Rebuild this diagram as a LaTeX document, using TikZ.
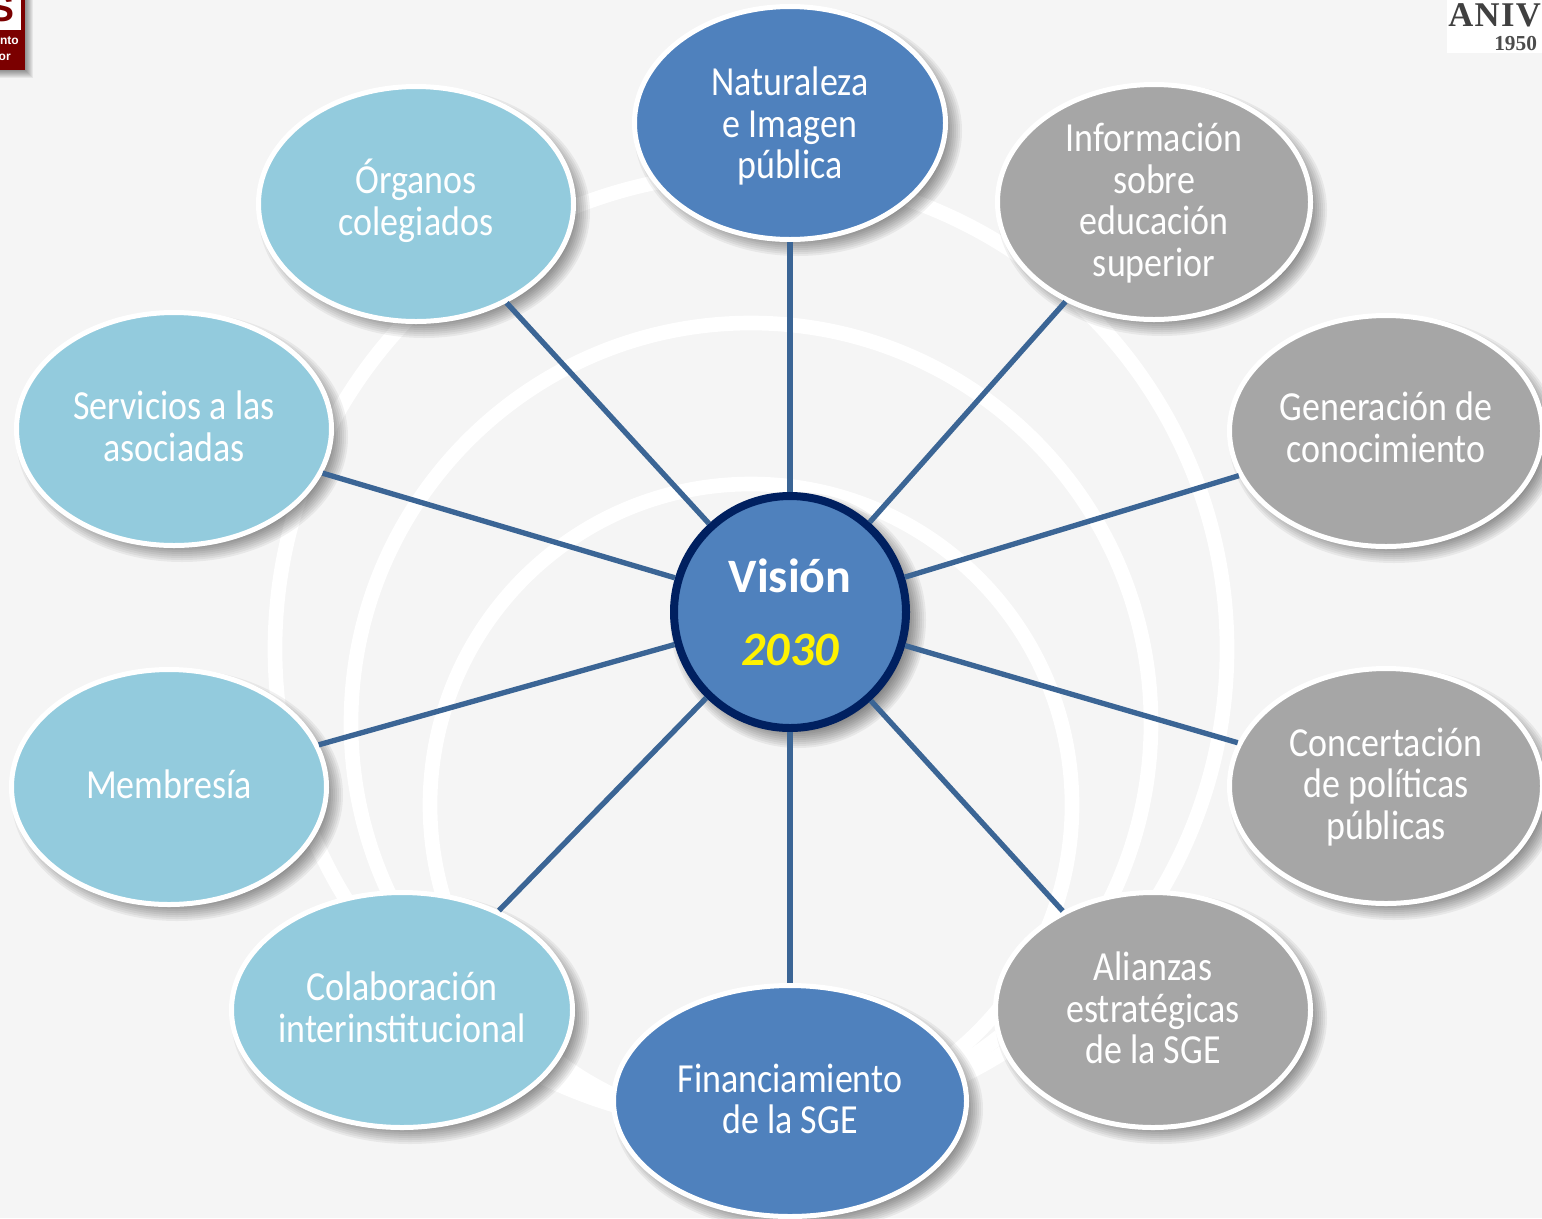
\documentclass[tikz,border=0pt]{standalone}
\usepackage{fontspec}
\usetikzlibrary{shapes.geometric}
\newfontfamily\bodyfont[FakeStretch=0.87]{Carlito}
\newfontfamily\headfont{Carlito}
\newfontfamily\logofont[LetterSpace=4]{Liberation Serif}
\newfontfamily\logoplain{Liberation Serif}
\newfontfamily\logosans{Liberation Sans}
\definecolor{pagebg}{HTML}{F5F5F5}
\definecolor{bluefill}{HTML}{4F81BD}
\definecolor{lightfill}{HTML}{93CBDD}
\definecolor{grayfill}{HTML}{A6A6A6}
\definecolor{navyline}{HTML}{002060}
\definecolor{linkcol}{HTML}{3B6595}
\definecolor{logored}{HTML}{7B0000}
\tikzset{
  x=0.75pt,y=-0.75pt,
  ringarc/.style={draw=white,line width=11pt},
  bubble/.style={ellipse,draw=white,line width=3.75pt,inner sep=0pt},
  bubbletext/.style={inner sep=0pt,text=white,align=center,
     font=\bodyfont\fontsize{31}{31.2}\selectfont},
  hub/.style={circle,draw=navyline,line width=6pt,fill=bluefill,minimum size=174pt,inner sep=0pt,align=center},
  link/.style={draw=linkcol,line width=4pt},
}
\newcommand{\softshadow}[4]{% x y rx ry
  \foreach \k in {0,...,9}{
    \fill[black,opacity=0.055] (#1+8,#2+8) ellipse ({(#3+8-2*\k)*0.75pt} and {(#4+8-2*\k)*0.75pt});
  }}
\newcommand{\bubblenode}[8]{% name x y rx ry colour dy text
  \softshadow{#2}{#3}{#4}{#5}
  \node[bubble,fill=#6,minimum width={(2*#4-1)*0.75pt},minimum height={(2*#5-1)*0.75pt}] (#1) at (#2,#3) {};
  \node[bubbletext] (#1text) at (#2,#3+#7) {#8};}
\begin{document}
\begin{tikzpicture}
\useasboundingbox (0,0) rectangle (1542,1218);
\clip (0,0) rectangle (1542,1218);
\fill[pagebg] (0,0) rectangle (1542,1218);
% background rings
\draw[ringarc] (751,649) circle [radius=476*0.75pt];
\draw[ringarc] (751,723) circle [radius=400*0.75pt];
\draw[ringarc] (751,805) circle [radius=321*0.75pt];
% logos
\foreach \k in {0,...,7}{\fill[black,opacity=0.06] (0,0) rectangle (33-\k,78-\k);}
\fill[logored] (0,0) rectangle (25,70);
\fill[white] (0,0) rectangle (21,30);
\node[text=logored,font=\logosans\bfseries\fontsize{28}{28}\selectfont,anchor=center,inner sep=0pt] (logoS) at (2,9) {S};
\node[text=white,font=\logosans\bfseries\fontsize{9}{10}\selectfont,anchor=east,inner sep=0pt] (logoA) at (19,41) {nto};
\node[text=white,font=\logosans\bfseries\fontsize{9}{10}\selectfont,anchor=east,inner sep=0pt] (logoB) at (11,57) {or};
\fill[white] (1447,0) rectangle (1542,53);
\node[text=black!75,font=\logofont\bfseries\fontsize{26}{26}\selectfont,anchor=west,inner sep=0pt] (logoC) at (1448,15) {ANIV};
\node[text=black!70,font=\logoplain\bfseries\fontsize{16}{16}\selectfont,anchor=west,inner sep=0pt] (logoD) at (1494,44) {1950};
% bubbles
\bubblenode{nat}{790}{123}{156}{117}{bluefill}{3}{Naturaleza\\e Imagen\\pública}
\bubblenode{inf}{1154}{202}{157}{118}{grayfill}{1}{Información\\sobre\\educación\\superior}
\bubblenode{gen}{1386}{431}{157}{116}{grayfill}{-4}{Generación de\\conocimiento}
\bubblenode{con}{1386}{786}{157}{118}{grayfill}{1}{Concertación\\de políticas\\públicas}
\bubblenode{ali}{1153}{1010}{158}{118}{grayfill}{-2}{Alianzas\\estratégicas\\de la SGE}
\bubblenode{fin}{790}{1101}{177}{116}{bluefill}{-2}{Financiamiento\\de la SGE}
\bubblenode{col}{402}{1010}{171}{118}{lightfill}{-3}{Colaboración\\interinstitucional}
\bubblenode{mem}{169}{787}{158}{118}{lightfill}{-3}{Membresía}
\bubblenode{ser}{174}{429}{158}{117}{lightfill}{-3}{Servicios a las\\asociadas}
\bubblenode{org}{416}{204}{158}{118}{lightfill}{-3}{Órganos\\colegiados}
% hub
\softshadow{790}{612}{120}{120}
\node[hub] (hub) at (790,612) {\headfont\bfseries\fontsize{36}{40}\selectfont\textcolor{white}{Visión}\\[30pt]\headfont\bfseries\itshape\fontsize{36}{40}\selectfont\textcolor{yellow}{2030}};
% connectors
\foreach \n in {nat,inf,gen,con,ali,fin,col,mem,ser,org}{
  \draw[link] (hub) -- (\n);
}
\end{tikzpicture}
\end{document}
